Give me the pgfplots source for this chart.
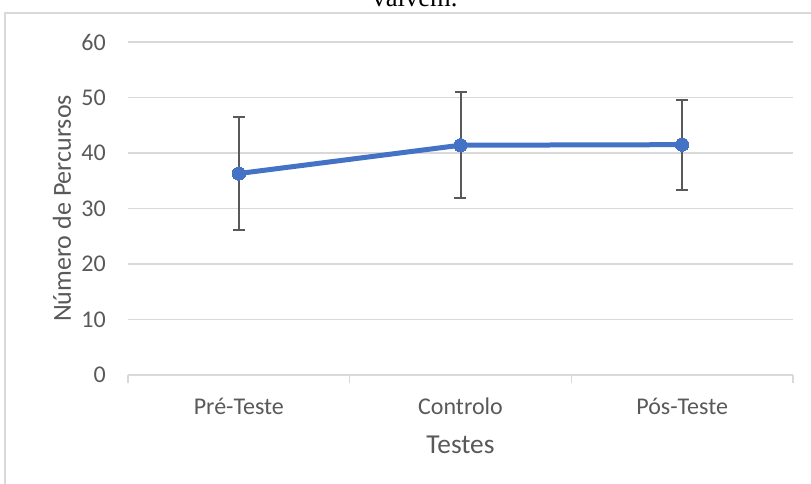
\documentclass[border=0pt]{standalone}
\usepackage{pgfplots}
\pgfplotsset{compat=1.18}
\usepackage{fontspec}
\setmainfont{Carlito}
\newfontfamily\titlefont{Liberation Serif}
\definecolor{xlblue}{HTML}{4472C4}
\definecolor{xlgray}{HTML}{595959}
\definecolor{xlgrid}{HTML}{D9D9D9}

\begin{document}
\begin{tikzpicture}
% 1 px of the reference = 0.75pt
\useasboundingbox (0,0) rectangle (608.25pt,363pt);
\draw[xlgrid, line width=0.9pt] (3.75pt,-5pt) -- (3.75pt,353.25pt) -- (620pt,353.25pt);
\node[anchor=base, inner sep=0pt, font=\titlefont\fontsize{20}{24}\selectfont] at (311.25pt,357.75pt) {vaivém.};

\begin{axis}[
    at={(96pt,81.75pt)}, anchor=south west,
    scale only axis,
    width=498.75pt,
    height=249.75pt,
    xmin=-0.5, xmax=2.5,
    ymin=0, ymax=60,
    ytick={0,10,...,60},
    xtick={0,1,2},
    xticklabels={Pré-Teste, Controlo, Pós-Teste},
    minor xtick={-0.5,0.5,1.5,2.5},
    axis x line*=bottom,
    axis y line*=left,
    x axis line style={xlgrid, line width=1pt, -},
    y axis line style={draw=none, -},
    ymajorgrids,
    grid style={xlgrid, line width=1.1pt},
    major tick length=0pt,
    minor tick length=6pt,
    tick align=outside,
    minor tick style={xlgrid, line width=1pt},
    /pgf/number format/assume math mode=true,
    ticklabel style={font=\fontsize{18}{21}\selectfont, text=xlgray},
    yticklabel style={anchor=east, inner sep=0pt, xshift=-16.5pt},
    xticklabel style={anchor=north, inner sep=0pt, yshift=-17pt},
    xlabel={Testes},
    ylabel={Número de Percursos},
    label style={font=\fontsize{19.5}{23}\selectfont, text=xlgray},
    xlabel style={at={(rel axis cs:0.5,-0.2102)}, anchor=center, font=\fontsize{20.5}{24}\selectfont},
    ylabel style={at={(rel axis cs:-0.0992,0.5)}, anchor=center},
    clip=false,
  ]
  % error bars first, so the line lies over them
  \addplot[draw=none, mark=none, forget plot,
    error bars/.cd, y dir=both, y explicit,
    error bar style={xlgray, line width=1.5pt},
    error mark options={rotate=90, mark size=4.5pt, line width=1.5pt, xlgray}]
    coordinates {
      (0,36.3) +- (0,10.2)
      (1,41.4) +- (0,9.5)
      (2,41.5) +- (0,8.1)
    };
  \addplot[xlblue, line width=3.75pt, mark=*, mark size=5pt,
    mark options={fill=xlblue, draw=xlblue, line width=0pt}]
    coordinates {
      (0,36.3)
      (1,41.4)
      (2,41.5)
    };
\end{axis}
\end{tikzpicture}
\end{document}
